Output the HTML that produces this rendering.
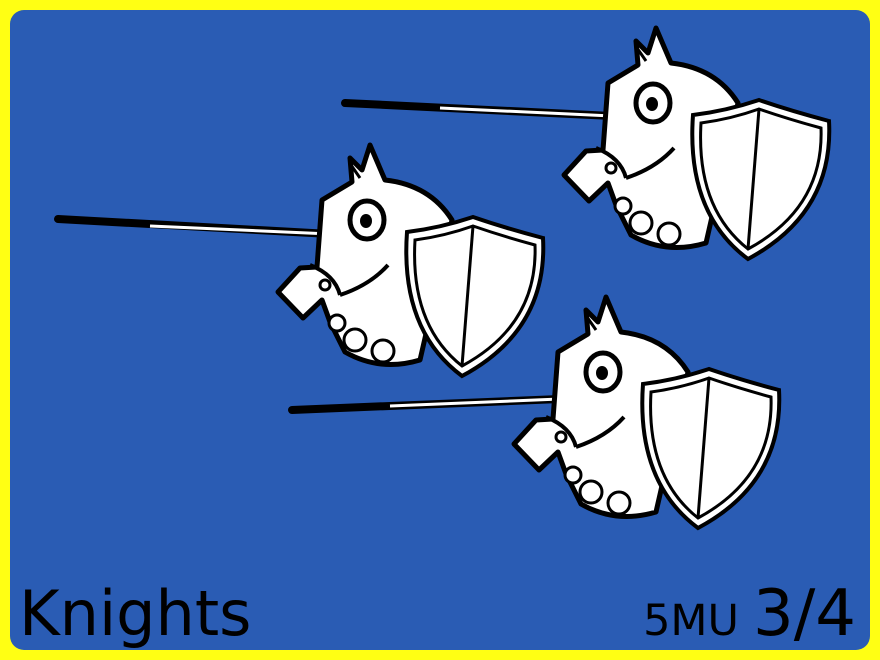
<!DOCTYPE html>
<html><head><meta charset="utf-8"><style>
html,body{margin:0;padding:0;background:#ffff14;}
#card{position:absolute;left:0;top:0;width:880px;height:660px;background:#ffff14;}
#inner{position:absolute;left:10px;top:10px;width:860px;height:640px;background:#2a5cb4;border-radius:14px;overflow:hidden;}
svg{position:absolute;left:0;top:0}
.t{position:absolute;font-family:"DejaVu Sans",sans-serif;color:#000;white-space:nowrap;}
</style></head><body>
<div id="card">
<div id="inner"></div>
<svg width="880" height="660">
<defs>
<g id="knight">
 <path d="M317,267 L322,200 L352,182 L350,158 L362,170 L370,145 L385,180 Q430,185 452,220 L420,360 Q380,372 345,352 L330,322 L322,300 L303,318 L278,292 L300,268 Z" fill="#fff" stroke="#000" stroke-width="5" stroke-linejoin="round"/>
 <path d="M351,165 L360,178" stroke="#000" stroke-width="3"/>
 <ellipse cx="367" cy="220" rx="17" ry="19" fill="#fff" stroke="#000" stroke-width="5"/>
 <ellipse cx="366" cy="221" rx="6" ry="7" fill="#000"/>
 <path d="M310,265 Q335,275 340,295" fill="none" stroke="#000" stroke-width="4"/>
 <path d="M340,295 Q370,285 388,265" fill="none" stroke="#000" stroke-width="4"/>
 <circle cx="325" cy="285" r="5" fill="#fff" stroke="#000" stroke-width="3"/>
 <circle cx="337" cy="323" r="8" fill="#fff" stroke="#000" stroke-width="3"/>
 <circle cx="355" cy="340" r="11" fill="#fff" stroke="#000" stroke-width="3"/>
 <circle cx="383" cy="351" r="11" fill="#fff" stroke="#000" stroke-width="3"/>
 <path d="M407,232 Q440,228 473,217 Q505,228 543,238 Q548,330 462,376 Q400,330 407,232 Z" fill="#fff" stroke="#000" stroke-width="4"/>
 <path d="M415,240 Q445,236 473,226 Q502,236 535,245 Q538,325 462,366 Q410,325 415,240 Z" fill="#fff" stroke="#000" stroke-width="3"/>
 <path d="M473,226 L462,366" stroke="#000" stroke-width="3"/>
</g>
</defs>
<g>
 <path d="M58,219 L330,234" stroke="#000" stroke-width="8" stroke-linecap="round"/>
 <path d="M150,226 L330,234" stroke="#fff" stroke-width="3"/>
 <use href="#knight"/>
</g>
<g>
 <path d="M345,103 L612,116" stroke="#000" stroke-width="8" stroke-linecap="round"/>
 <path d="M440,108 L612,116" stroke="#fff" stroke-width="3"/>
 <use href="#knight" transform="translate(286,-117)"/>
</g>
<g>
 <path d="M292,410 L560,399" stroke="#000" stroke-width="8" stroke-linecap="round"/>
 <path d="M390,406 L560,399" stroke="#fff" stroke-width="3"/>
 <use href="#knight" transform="translate(236,152)"/>
</g>
</svg>
<div class="t" style="left:19px;top:578px;font-size:62px;line-height:72px;">Knights</div>
<div class="t" style="right:24px;top:578px;font-size:64px;line-height:72px;"><span style="font-size:43px;margin-right:14px">5MU</span><span>3/4</span></div>
</div>
</body></html>
